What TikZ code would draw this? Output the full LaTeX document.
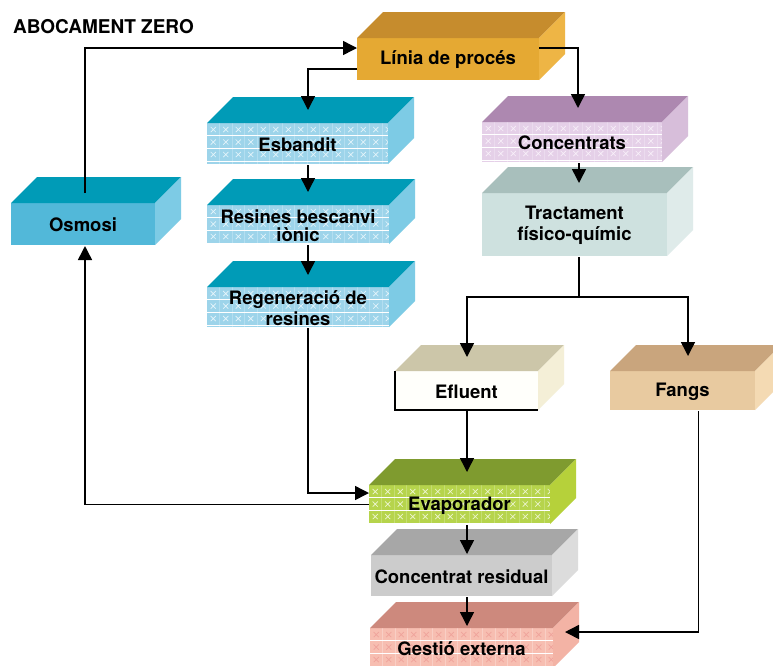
\documentclass[tikz,border=0pt]{standalone}
\usepackage{fontspec}
\setmainfont{TeX Gyre Heros}
\usetikzlibrary{arrows.meta}

% face colours: T = top, F = front, S = side, X = cross marks, L = grid lines
\definecolor{liniaT}{HTML}{C68C2D}\definecolor{liniaF}{HTML}{E5A933}\definecolor{liniaS}{HTML}{EEB545}
\definecolor{blueT}{HTML}{009BB7}\definecolor{blueF}{HTML}{52B8D9}\definecolor{blueS}{HTML}{7DCBE5}
\definecolor{bluepT}{HTML}{009BB7}\definecolor{bluepF}{HTML}{9DD4EA}\definecolor{bluepS}{HTML}{7DCBE5}
\definecolor{bluepX}{HTML}{E6F5FB}\definecolor{bluepL}{HTML}{B3DEF0}
\definecolor{concT}{HTML}{AD88B0}\definecolor{concF}{HTML}{E5D0E8}\definecolor{concS}{HTML}{D7BEDA}
\definecolor{concX}{HTML}{F8F0F9}\definecolor{concL}{HTML}{EBDBEE}
\definecolor{traT}{HTML}{A8BFBC}\definecolor{traF}{HTML}{CEE1DF}\definecolor{traS}{HTML}{DFEBEA}
\definecolor{eflT}{HTML}{CCC6A9}\definecolor{eflF}{HTML}{FFFFFB}\definecolor{eflS}{HTML}{F4EFD7}
\definecolor{fanT}{HTML}{C9A57D}\definecolor{fanF}{HTML}{E8CAA0}\definecolor{fanS}{HTML}{F4DAB3}
\definecolor{evaT}{HTML}{7F9B2F}\definecolor{evaF}{HTML}{B6D44C}\definecolor{evaS}{HTML}{B6D13A}
\definecolor{evaX}{HTML}{EEF6D2}\definecolor{evaL}{HTML}{C5DE72}
\definecolor{resT}{HTML}{A7A7A7}\definecolor{resF}{HTML}{CCCCCC}\definecolor{resS}{HTML}{DCDCDC}
\definecolor{gesT}{HTML}{CD897D}\definecolor{gesF}{HTML}{F7BEB1}\definecolor{gesS}{HTML}{F3B3A5}
\definecolor{gesX}{HTML}{EFA39B}\definecolor{gesL}{HTML}{F9CFC5}

\tikzset{
  lbl/.style={font=\fontsize{18.5}{21.5}\selectfont\bfseries, align=center,
    inner sep=0pt, outer sep=0pt, text=black},
  conn/.style={line width=1.5pt, black},
  arr/.style={conn, -{Triangle[length=14pt,width=14pt]}},
}

% no pattern on the front face
\newcommand\nogrid[5]{}
% crossed grid on the front face: x0, y0, x1, y1, colour set
\newcommand\xgrid[5]{%
  \begin{scope}
    \clip (#1,#2) rectangle (#3,#4);
    \foreach \i in {1,...,15}
      \draw[#5L, line width=0.5pt] ({#1+12.5*\i},#2) -- ({#1+12.5*\i},#4);
    \foreach \i in {0,...,14}
      \foreach \j in {0,1,2}
        \draw[#5X, line width=0.7pt]
          ({#1+6.25+12.5*\i-2.6},{#2+6.5+12.5*\j-2.6}) -- ({#1+6.25+12.5*\i+2.6},{#2+6.5+12.5*\j+2.6})
          ({#1+6.25+12.5*\i-2.6},{#2+6.5+12.5*\j+2.6}) -- ({#1+6.25+12.5*\i+2.6},{#2+6.5+12.5*\j-2.6});
    \foreach \j in {1,2,3}
      \draw[white, line width=1.1pt] (#1,{#2+12.7*\j}) -- (#3,{#2+12.7*\j});
  \end{scope}}

% block: name, x0, y0, x1, y1 (front face), colour set, front pattern, text
\newcommand\cuboid[8]{%
  \fill[#6F] (#2,#3) rectangle (#4,#5);
  #7{#2}{#3}{#4}{#5}{#6}
  \fill[#6T] (#2,#3) -- (#2+26,#3-26) -- (#4+26,#3-26) -- (#4,#3) -- cycle;
  \fill[#6S] (#4,#3) -- (#4+26,#3-26) -- (#4+26,#5-26) -- (#4,#5) -- cycle;
  \node[lbl, minimum width={(#4-#2)*1pt}, minimum height={(#5-#3)*1pt}]
    (#1) at ({(#2+#4)/2},{(#3+#5)/2+1}) {#8};}

\begin{document}
\begin{tikzpicture}[x=1pt, y=-1pt]
\useasboundingbox (0,0) rectangle (773,665);
\fill[white] (0,0) rectangle (773,665);

\node[anchor=base west, inner sep=0pt, font=\fontsize{19}{22}\selectfont\bfseries]
  (title) at (13,33) {ABOCAMENT ZERO};

% blocks
\cuboid{linia}{357}{38}{539}{80}{linia}{\nogrid}{Línia de procés}
\cuboid{osm}{11}{203}{155}{245}{blue}{\nogrid}{Osmosi}
\cuboid{esb}{207}{123}{388}{164}{bluep}{\xgrid}{Esbandit}
\cuboid{resi}{207}{205}{389}{244}{bluep}{\xgrid}{Resines bescanvi\\[-3pt]iònic}
\cuboid{reg}{207}{287}{389}{327}{bluep}{\xgrid}{Regeneració de\\resines}
\cuboid{conc}{482}{122}{662}{162}{conc}{\xgrid}{Concentrats}
\cuboid{tra}{482}{193}{667}{256}{tra}{\nogrid}{Tractament\\físico-químic}
\cuboid{efl}{395}{371}{538}{410}{efl}{\nogrid}{Efluent}
\draw[line width=1.3pt] ([yshift=1pt]efl.north west) -- ([yshift=1pt]efl.south west) -- ([yshift=1pt]efl.south east);
\cuboid{fan}{610}{371}{755}{410}{fan}{\nogrid}{Fangs}
\cuboid{eva}{369}{485}{550}{524}{eva}{\xgrid}{Evaporador}
\cuboid{resd}{371}{555}{552}{596}{res}{\nogrid}{Concentrat residual}
\cuboid{ges}{370}{628}{553}{668}{ges}{\xgrid}{Gestió externa}

% arrow ends on the top and side faces
\coordinate (osmUp) at (85,193);
\coordinate (esbIn) at (308,110);
\coordinate (resiIn) at (308,192);
\coordinate (regIn) at (308,275);
\coordinate (concIn) at (578,108);
\coordinate (traIn) at (579,183);
\coordinate (split) at (579,297);
\coordinate (eflIn) at (467,357);
\coordinate (fanIn) at (688,356);
\coordinate (evaIn) at (467,472);
\coordinate (resdIn) at (467,554);
\coordinate (gesIn) at (467,626);
\coordinate (gesSide) at (565,632);

% connectors
\draw[arr] (osmUp) |- ([yshift=12pt]linia.west);
\draw[arr] ([yshift=-9pt]linia.west) -| (esbIn);
\draw[arr] ([yshift=12pt]linia.east) -| (concIn);
\draw[arr] (esbIn |- esb.south) -- (resiIn);
\draw[arr] (resiIn |- resi.south) -- (regIn);
\draw[arr] (regIn |- reg.south) |- ([yshift=12.5pt]eva.west);
\draw[arr] ([yshift=1pt]eva.west) -| (osmUp |- osm.south);
\draw[arr] (traIn |- conc.south) -- (traIn);
\draw[conn] (split |- tra.south) -- (split);
\draw[arr] (split) -| (eflIn);
\draw[arr] (split) -| (fanIn);
\draw[arr] (eflIn |- efl.south) -- (evaIn);
\draw[arr] ([xshift=16pt]fan.south) |- (gesSide);
\draw[arr] (evaIn |- eva.south) -- (resdIn);
\draw[arr] (resdIn |- resd.south) -- (gesIn);
\end{tikzpicture}
\end{document}
